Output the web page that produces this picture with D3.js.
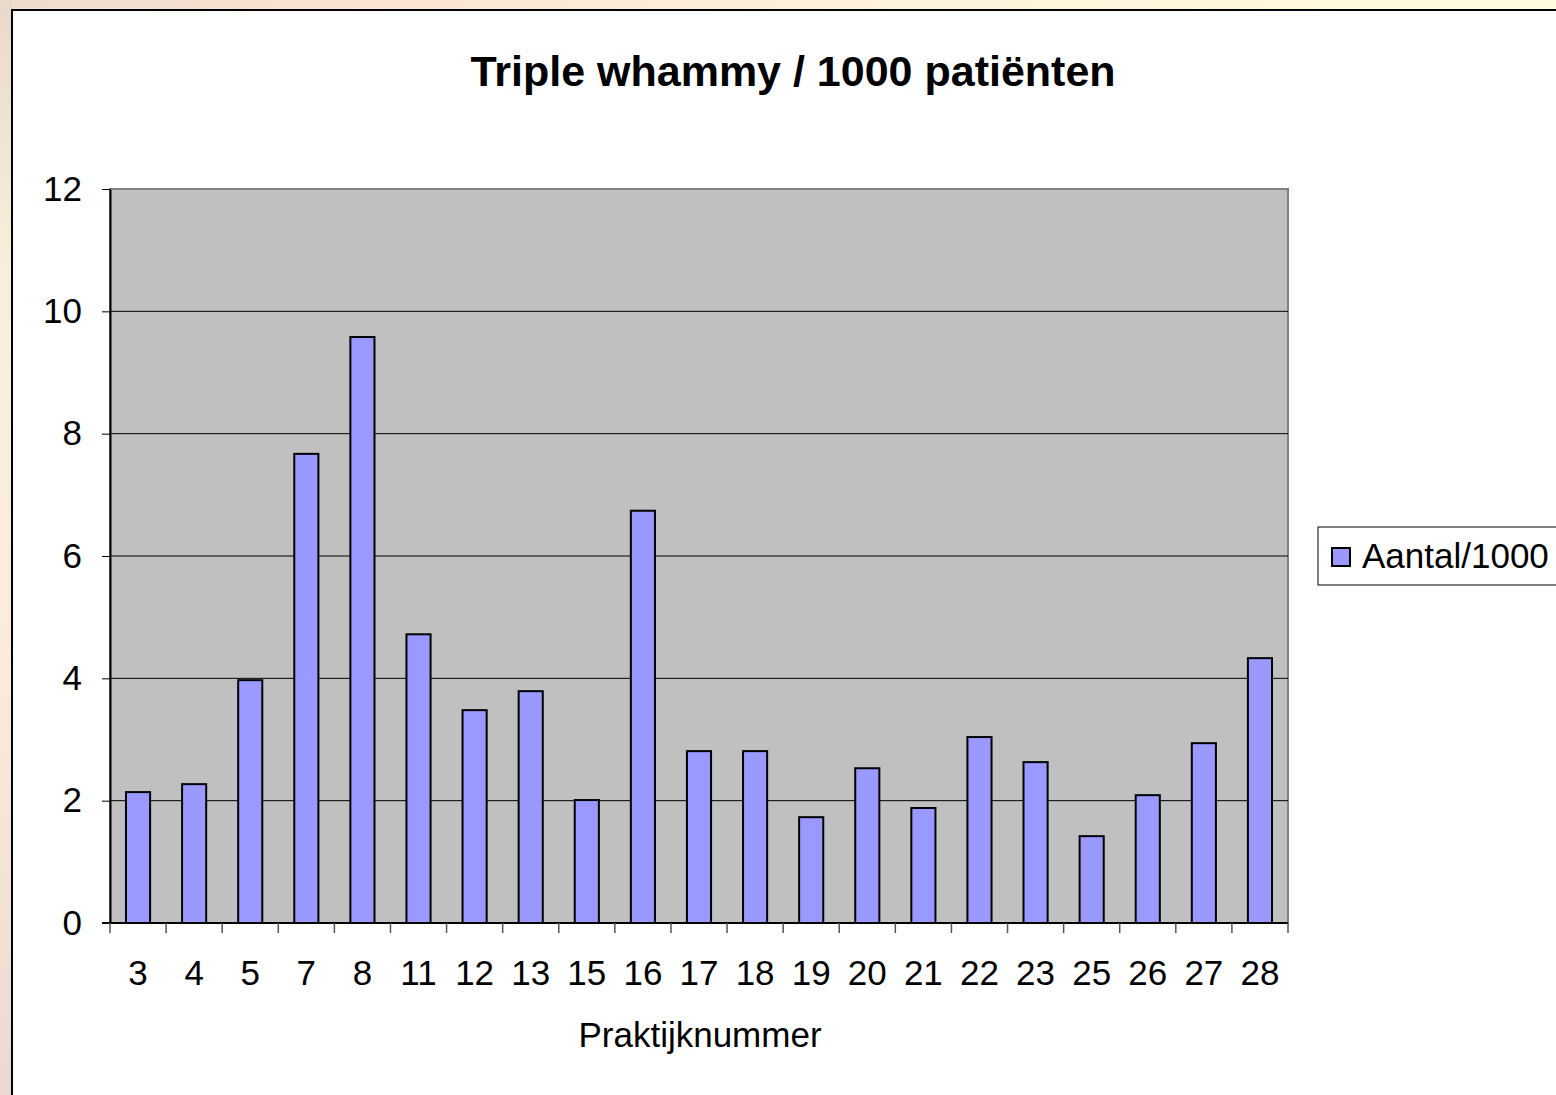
<!DOCTYPE html>
<html>
<head>
<meta charset="utf-8">
<script src="https://cdn.jsdelivr.net/npm/d3@7"></script>
<style>
  body { margin: 0; }
  text { font-family: "Liberation Sans", Arial, sans-serif; }
</style>
</head>
<body>
<svg width="1556" height="1095"></svg>
<script>
const practices = ["3", "4", "5", "7", "8", "11", "12", "13", "15", "16", "17", "18", "19", "20", "21", "22", "23", "25", "26", "27", "28"];
const perThousand = [2.14, 2.27, 3.97, 7.67, 9.58, 4.72, 3.48, 3.79, 2.01, 6.74, 2.81, 2.81, 1.73, 2.53, 1.88, 3.04, 2.63, 1.42, 2.09, 2.94, 4.33];
const yTicks = [0, 2, 4, 6, 8, 10, 12];

const svg = d3.select("svg");
const W = 1556, H = 1095;

// page background with soft gradient edges
const defs = svg.append("defs");
const lg = defs.append("linearGradient").attr("id", "bgLeft").attr("x1", 0).attr("y1", 0).attr("x2", 0).attr("y2", 1);
lg.append("stop").attr("offset", "0%").attr("stop-color", "#e9d9cc");
lg.append("stop").attr("offset", "25%").attr("stop-color", "#f9eedc");
lg.append("stop").attr("offset", "60%").attr("stop-color", "#fcebdc");
lg.append("stop").attr("offset", "100%").attr("stop-color", "#ead9cf");
const tg = defs.append("linearGradient").attr("id", "bgTop").attr("x1", 0).attr("y1", 0).attr("x2", 1).attr("y2", 0);
tg.append("stop").attr("offset", "0%").attr("stop-color", "#ecdccd");
tg.append("stop").attr("offset", "20%").attr("stop-color", "#fae2d2");
tg.append("stop").attr("offset", "60%").attr("stop-color", "#fdf3dc");
tg.append("stop").attr("offset", "100%").attr("stop-color", "#fffbe0");

svg.append("rect").attr("width", W).attr("height", 10).attr("fill", "url(#bgTop)");
svg.append("rect").attr("width", 12).attr("height", H).attr("fill", "url(#bgLeft)");

// chart area
svg.append("rect")
  .attr("x", 12).attr("y", 10)
  .attr("width", W - 12 + 2).attr("height", H - 10 + 2)
  .attr("fill", "#fff")
  .attr("stroke", "#000").attr("stroke-width", 2);

const plot = { left: 110, top: 189, right: 1288, bottom: 923 };

const x = d3.scaleBand()
  .domain(practices)
  .range([plot.left, plot.right])
  .paddingInner(0.57)
  .paddingOuter(0.285);

const y = d3.scaleLinear()
  .domain([0, 12])
  .range([plot.bottom, plot.top]);

// plot background
svg.append("rect")
  .attr("x", plot.left).attr("y", plot.top)
  .attr("width", plot.right - plot.left).attr("height", plot.bottom - plot.top)
  .attr("fill", "#c0c0c0")
  .attr("stroke", "#808080").attr("stroke-width", 2);

// gridlines
svg.append("g")
  .selectAll("line")
  .data(yTicks.filter(d => d > 0 && d < 12))
  .enter()
  .append("line")
  .attr("x1", plot.left).attr("x2", plot.right)
  .attr("y1", d => y(d)).attr("y2", d => y(d))
  .attr("stroke", "#000").attr("stroke-width", 1);

// bars
svg.append("g")
  .selectAll("rect")
  .data(perThousand)
  .enter()
  .append("rect")
  .attr("x", (d, i) => x(practices[i]))
  .attr("y", d => y(d))
  .attr("width", x.bandwidth())
  .attr("height", d => plot.bottom - y(d))
  .attr("fill", "#9999ff")
  .attr("stroke", "#000").attr("stroke-width", 2);

// y axis
const yAxis = svg.append("g")
  .attr("transform", `translate(${plot.left},0)`)
  .call(d3.axisLeft(y).tickValues(yTicks).tickSize(8).tickSizeOuter(0).tickPadding(20));
yAxis.select(".domain").attr("stroke", "#000").attr("stroke-width", 2);
yAxis.selectAll(".tick line").attr("stroke", "#000");
yAxis.selectAll(".tick text")
  .attr("font-size", 35)
  .attr("font-family", "Liberation Sans, Arial, sans-serif")
  .attr("fill", "#000");

// x axis with ticks between categories
const boundaries = d3.range(practices.length + 1).map(i => plot.left + i * (plot.right - plot.left) / practices.length);
const xAxis = svg.append("g");
xAxis.append("line")
  .attr("x1", plot.left - 8).attr("x2", plot.right)
  .attr("y1", plot.bottom).attr("y2", plot.bottom)
  .attr("stroke", "#000").attr("stroke-width", 2);
xAxis.selectAll("line.tk")
  .data(boundaries)
  .enter()
  .append("line")
  .attr("class", "tk")
  .attr("x1", d => d).attr("x2", d => d)
  .attr("y1", plot.bottom).attr("y2", plot.bottom + 10)
  .attr("stroke", "#555").attr("stroke-width", 1.5);
xAxis.selectAll("text")
  .data(practices)
  .enter()
  .append("text")
  .attr("x", d => x(d) + x.bandwidth() / 2)
  .attr("y", 985)
  .attr("text-anchor", "middle")
  .attr("font-size", 35)
  .text(d => d);

// titles
svg.append("text")
  .attr("x", 793).attr("y", 86)
  .attr("text-anchor", "middle")
  .attr("font-size", 43)
  .attr("font-weight", "bold")
  .text("Triple whammy / 1000 patiënten");

svg.append("text")
  .attr("x", 700).attr("y", 1047)
  .attr("text-anchor", "middle")
  .attr("font-size", 35)
  .text("Praktijknummer");

// legend
const legend = svg.append("g");
legend.append("rect")
  .attr("x", 1318).attr("y", 527)
  .attr("width", 250).attr("height", 58)
  .attr("fill", "#fff")
  .attr("stroke", "#000").attr("stroke-width", 1);
legend.append("rect")
  .attr("x", 1332).attr("y", 548)
  .attr("width", 18).attr("height", 18)
  .attr("fill", "#9999ff")
  .attr("stroke", "#000").attr("stroke-width", 2);
legend.append("text")
  .attr("x", 1362).attr("y", 568)
  .attr("font-size", 35)
  .text("Aantal/1000");
</script>
</body>
</html>
